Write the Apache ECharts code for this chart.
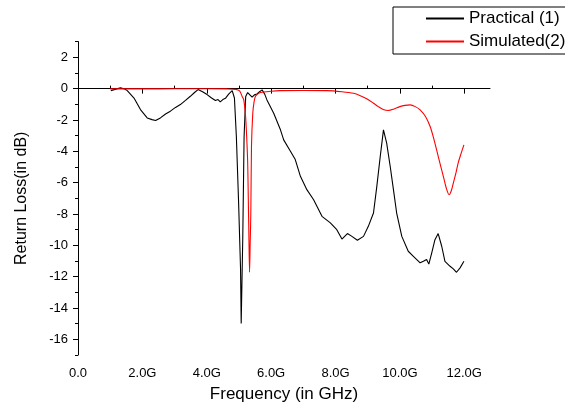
<!DOCTYPE html>
<html>
<head>
<meta charset="utf-8">
<script src="https://cdn.jsdelivr.net/npm/echarts@6/dist/echarts.min.js"></script>
<style>
  html, body { margin: 0; padding: 0; background: #fff; }
  #chart { width: 565px; height: 408px; }
</style>
</head>
<body>
<div id="chart"></div>
<script>
// tick labels
const xTicks = [0, 2, 4, 6, 8, 10, 12];
const xMinorTicks = [1, 3, 5, 7, 9, 11];
const yTicks = [-16, -14, -12, -10, -8, -6, -4, -2, 0, 2];
const yMinorTicks = [-17, -15, -13, -11, -9, -7, -5, -3, -1, 1, 3];

// Practical (1), measured
const freqPractical = [1.02, 1.15, 1.32, 1.45, 1.53, 1.74, 1.94, 2.15, 2.30, 2.41, 2.56, 2.72, 2.87, 3.03, 3.18,
  3.34, 3.49, 3.62, 3.73, 3.87, 4.01, 4.15, 4.27, 4.35, 4.42, 4.50, 4.58, 4.68, 4.79, 4.86, 4.92, 4.99,
  5.05, 5.07, 5.12, 5.16, 5.21, 5.27, 5.34, 5.41, 5.48, 5.56, 5.64, 5.72, 5.80, 5.87, 6.08, 6.29, 6.39,
  6.60, 6.75, 6.91, 7.11, 7.32, 7.58, 7.84, 8.04, 8.20, 8.37, 8.51, 8.68, 8.87, 9.02, 9.18, 9.28, 9.39,
  9.49, 9.59, 9.70, 9.80, 9.90, 10.06, 10.26, 10.42, 10.63, 10.73, 10.83, 10.90, 10.99, 11.09, 11.19,
  11.30, 11.40, 11.56, 11.66, 11.76, 11.87, 11.99];
const lossPractical = [-0.13, -0.05, 0.05, -0.02, -0.13, -0.6, -1.34, -1.87, -1.98, -2.04, -1.87, -1.62, -1.44, -1.2, -1.02,
  -0.75, -0.49, -0.25, -0.06, -0.2, -0.38, -0.6, -0.76, -0.7, -0.85, -0.7, -0.62, -0.35, -0.13, -0.6, -3.06, -7.3,
  -11.5, -14.99, -9.4, -3.06, -0.5, -0.25, -0.4, -0.55, -0.4, -0.34, -0.2, -0.08, -0.35, -0.72, -1.57, -2.63, -3.27,
  -4.0, -4.53, -5.6, -6.45, -7.09, -8.15, -8.57, -9.0, -9.6, -9.25, -9.43, -9.68, -9.43, -8.79, -7.94, -6.3, -4.33,
  -2.63, -3.48, -4.97, -6.45, -7.94, -9.43, -10.38, -10.7, -11.12, -11.02, -10.9, -11.2, -10.48, -9.64, -9.25,
  -10.06, -11.02, -11.34, -11.5, -11.72, -11.44, -11.02];

// Simulated(2)
const freqSimulated = [1.0, 2.0, 3.0, 4.0, 4.6, 4.9, 5.02, 5.10, 5.15, 5.20, 5.23, 5.27, 5.29, 5.31, 5.33, 5.35,
  5.37, 5.39, 5.43, 5.47, 5.51, 5.58, 5.67, 6.0, 6.26, 7.0, 7.73, 8.2, 8.56, 8.77, 8.97, 9.18, 9.33, 9.48,
  9.64, 9.82, 10.0, 10.16, 10.32, 10.48, 10.63, 10.8, 10.94, 11.04, 11.14, 11.25, 11.35, 11.45, 11.53, 11.6,
  11.66, 11.74, 11.81, 11.9, 11.99];
const lossSimulated = [-0.02, -0.02, -0.01, -0.01, -0.02, -0.05, -0.15, -0.5, -0.72, -1.6, -2.63, -4.6, -6.9, -9.5, -11.72, -9.8,
  -7.9, -3.7, -1.57, -0.85, -0.5, -0.35, -0.25, -0.17, -0.13, -0.12, -0.13, -0.2, -0.3, -0.45, -0.65, -0.93, -1.15, -1.33,
  -1.4, -1.3, -1.15, -1.07, -1.04, -1.15, -1.36, -1.8, -2.42, -3.1, -3.9, -4.8, -5.6, -6.4, -6.77, -6.5,
  -6.03, -5.4, -4.75, -4.15, -3.59];

const zip = (xs, ys) => xs.map((x, i) => [x, ys[i]]);
const font = 'Arial, "Liberation Sans", sans-serif';

const chart = echarts.init(document.getElementById('chart'), null, { renderer: 'canvas' });

const xBase = { type: 'value', min: 0, max: 12.8, splitLine: { show: false } };
const yBase = { type: 'value', min: -17, max: 3, splitLine: { show: false } };

chart.setOption({
  animation: false,
  backgroundColor: '#fff',
  grid: { left: 78, right: 75, top: 41.6, bottom: 53 },
  legend: {
    orient: 'vertical',
    left: 393,
    top: 7,
    padding: [3, 20, 4, 32],
    itemWidth: 38,
    itemHeight: 14,
    itemGap: 6,
    borderColor: '#000',
    borderWidth: 1,
    borderRadius: 0,
    itemStyle: { opacity: 0 },
    textStyle: { fontFamily: font, fontSize: 17, color: '#000' },
    data: ['Practical (1)', 'Simulated(2)']
  },
  xAxis: [
    Object.assign({}, xBase, {
      name: 'Frequency (in GHz)',
      nameLocation: 'middle',
      nameGap: 31,
      nameTextStyle: { fontFamily: font, fontSize: 17, color: '#000' },
      axisLine: { lineStyle: { color: '#000', width: 1 } },
      axisTick: { length: 5, lineStyle: { color: '#000' }, customValues: xTicks },
      axisLabel: {
        customValues: xTicks,
        margin: 12,
        fontFamily: font, fontSize: 13, color: '#000',
        formatter: v => v === 0 ? '0.0' : v.toFixed(1) + 'G'
      }
    }),
    Object.assign({}, xBase, {
      axisLine: { show: false },
      axisTick: { length: 3, lineStyle: { color: '#000' }, customValues: xMinorTicks },
      axisLabel: { show: false }
    })
  ],
  yAxis: [
    Object.assign({}, yBase, {
      name: 'Return Loss(in dB)',
      nameLocation: 'middle',
      nameGap: 48,
      nameTextStyle: { fontFamily: font, fontSize: 16, color: '#000' },
      axisLine: { lineStyle: { color: '#000', width: 1 } },
      axisTick: { length: 5, lineStyle: { color: '#000' }, customValues: yTicks },
      axisLabel: {
        customValues: yTicks,
        margin: 10,
        fontFamily: font, fontSize: 13, color: '#000'
      }
    }),
    Object.assign({}, yBase, {
      position: 'left',
      axisLine: { show: false },
      axisTick: { length: 3, lineStyle: { color: '#000' }, customValues: yMinorTicks },
      axisLabel: { show: false }
    })
  ],
  series: [
    {
      name: 'Practical (1)',
      type: 'line',
      symbol: 'none',
      data: zip(freqPractical, lossPractical),
      lineStyle: { color: '#000', width: 1.1 },
      itemStyle: { color: '#000' }
    },
    {
      name: 'Simulated(2)',
      type: 'line',
      symbol: 'none',
      smooth: 0.3,
      data: zip(freqSimulated, lossSimulated),
      lineStyle: { color: '#ff0000', width: 1.1 },
      itemStyle: { color: '#ff0000' }
    }
  ]
});
</script>
</body>
</html>
